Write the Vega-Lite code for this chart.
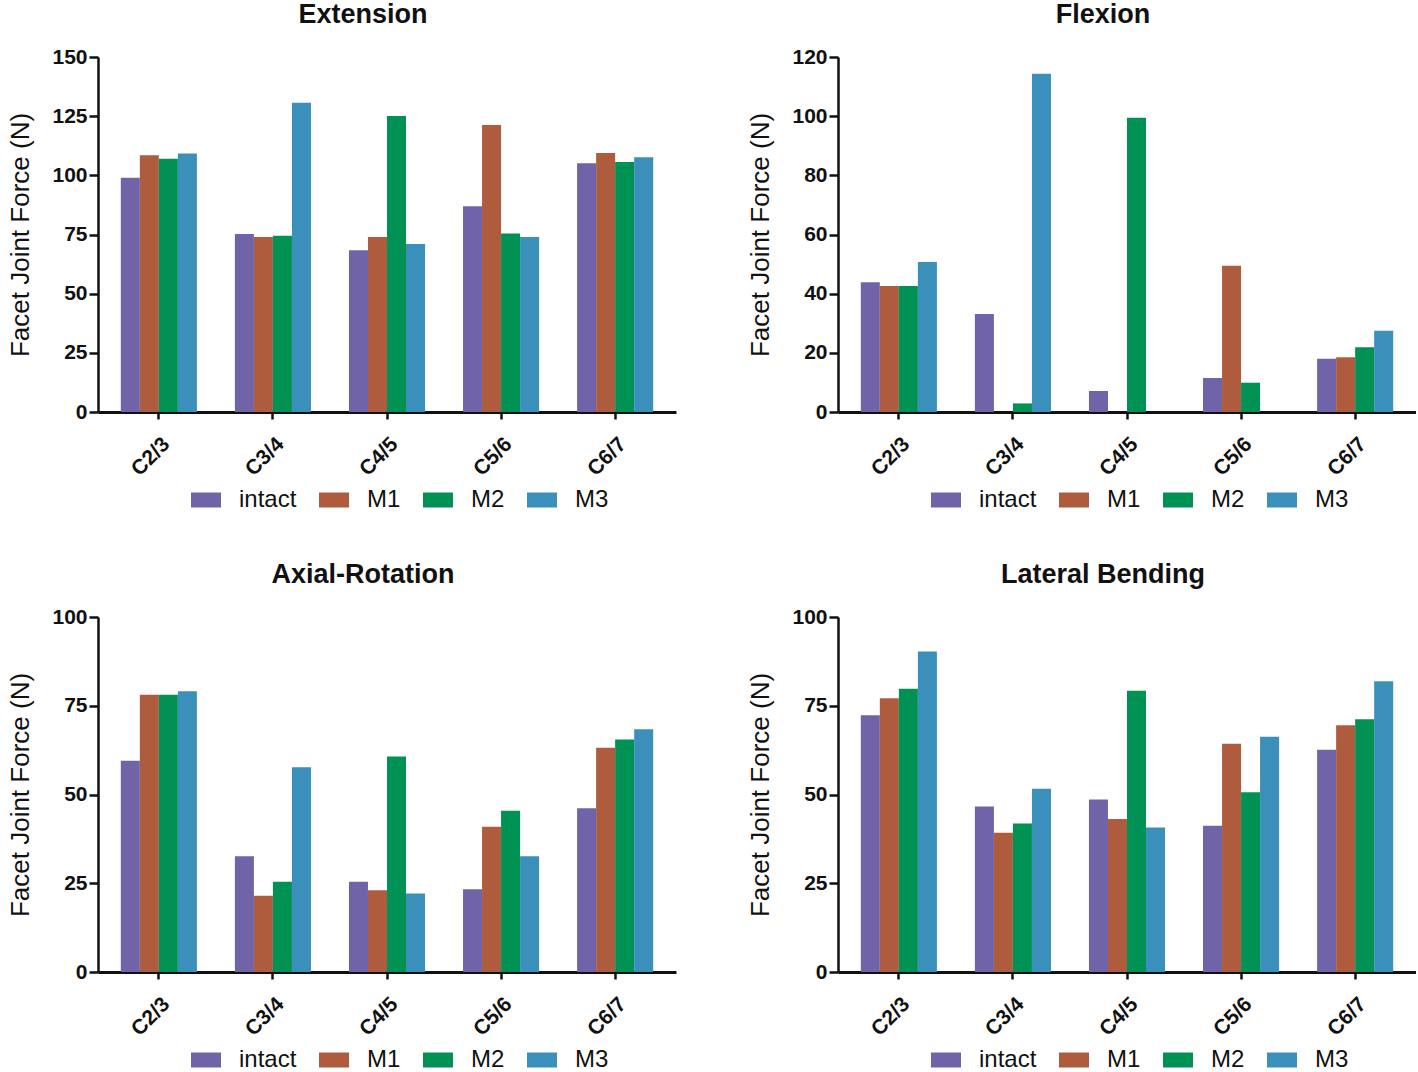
{
  "$schema": "https://vega.github.io/schema/vega-lite/v6.json",
  "padding": {"left": 7, "top": 1, "right": 0, "bottom": 0},
  "background": "white",
  "datasets": {
    "forces": [
      {"panel": "Extension", "level": "C2/3", "cond": "intact", "value": 99.0},
      {"panel": "Extension", "level": "C2/3", "cond": "M1", "value": 108.5},
      {"panel": "Extension", "level": "C2/3", "cond": "M2", "value": 107.0},
      {"panel": "Extension", "level": "C2/3", "cond": "M3", "value": 109.2},
      {"panel": "Extension", "level": "C3/4", "cond": "intact", "value": 75.2},
      {"panel": "Extension", "level": "C3/4", "cond": "M1", "value": 73.9},
      {"panel": "Extension", "level": "C3/4", "cond": "M2", "value": 74.5},
      {"panel": "Extension", "level": "C3/4", "cond": "M3", "value": 130.7},
      {"panel": "Extension", "level": "C4/5", "cond": "intact", "value": 68.3},
      {"panel": "Extension", "level": "C4/5", "cond": "M1", "value": 73.9},
      {"panel": "Extension", "level": "C4/5", "cond": "M2", "value": 125.1},
      {"panel": "Extension", "level": "C4/5", "cond": "M3", "value": 71.0},
      {"panel": "Extension", "level": "C5/6", "cond": "intact", "value": 86.9},
      {"panel": "Extension", "level": "C5/6", "cond": "M1", "value": 121.3},
      {"panel": "Extension", "level": "C5/6", "cond": "M2", "value": 75.4},
      {"panel": "Extension", "level": "C5/6", "cond": "M3", "value": 73.9},
      {"panel": "Extension", "level": "C6/7", "cond": "intact", "value": 105.1},
      {"panel": "Extension", "level": "C6/7", "cond": "M1", "value": 109.4},
      {"panel": "Extension", "level": "C6/7", "cond": "M2", "value": 105.6},
      {"panel": "Extension", "level": "C6/7", "cond": "M3", "value": 107.6},

      {"panel": "Flexion", "level": "C2/3", "cond": "intact", "value": 43.9},
      {"panel": "Flexion", "level": "C2/3", "cond": "M1", "value": 42.6},
      {"panel": "Flexion", "level": "C2/3", "cond": "M2", "value": 42.6},
      {"panel": "Flexion", "level": "C2/3", "cond": "M3", "value": 50.7},
      {"panel": "Flexion", "level": "C3/4", "cond": "intact", "value": 33.1},
      {"panel": "Flexion", "level": "C3/4", "cond": "M1", "value": 0},
      {"panel": "Flexion", "level": "C3/4", "cond": "M2", "value": 2.9},
      {"panel": "Flexion", "level": "C3/4", "cond": "M3", "value": 114.3},
      {"panel": "Flexion", "level": "C4/5", "cond": "intact", "value": 7.1},
      {"panel": "Flexion", "level": "C4/5", "cond": "M1", "value": 0},
      {"panel": "Flexion", "level": "C4/5", "cond": "M2", "value": 99.5},
      {"panel": "Flexion", "level": "C4/5", "cond": "M3", "value": 0},
      {"panel": "Flexion", "level": "C5/6", "cond": "intact", "value": 11.5},
      {"panel": "Flexion", "level": "C5/6", "cond": "M1", "value": 49.4},
      {"panel": "Flexion", "level": "C5/6", "cond": "M2", "value": 9.9},
      {"panel": "Flexion", "level": "C5/6", "cond": "M3", "value": 0},
      {"panel": "Flexion", "level": "C6/7", "cond": "intact", "value": 18.0},
      {"panel": "Flexion", "level": "C6/7", "cond": "M1", "value": 18.5},
      {"panel": "Flexion", "level": "C6/7", "cond": "M2", "value": 21.9},
      {"panel": "Flexion", "level": "C6/7", "cond": "M3", "value": 27.5},

      {"panel": "Axial-Rotation", "level": "C2/3", "cond": "intact", "value": 59.5},
      {"panel": "Axial-Rotation", "level": "C2/3", "cond": "M1", "value": 78.1},
      {"panel": "Axial-Rotation", "level": "C2/3", "cond": "M2", "value": 78.1},
      {"panel": "Axial-Rotation", "level": "C2/3", "cond": "M3", "value": 79.1},
      {"panel": "Axial-Rotation", "level": "C3/4", "cond": "intact", "value": 32.6},
      {"panel": "Axial-Rotation", "level": "C3/4", "cond": "M1", "value": 21.5},
      {"panel": "Axial-Rotation", "level": "C3/4", "cond": "M2", "value": 25.4},
      {"panel": "Axial-Rotation", "level": "C3/4", "cond": "M3", "value": 57.7},
      {"panel": "Axial-Rotation", "level": "C4/5", "cond": "intact", "value": 25.4},
      {"panel": "Axial-Rotation", "level": "C4/5", "cond": "M1", "value": 23.0},
      {"panel": "Axial-Rotation", "level": "C4/5", "cond": "M2", "value": 60.7},
      {"panel": "Axial-Rotation", "level": "C4/5", "cond": "M3", "value": 22.1},
      {"panel": "Axial-Rotation", "level": "C5/6", "cond": "intact", "value": 23.3},
      {"panel": "Axial-Rotation", "level": "C5/6", "cond": "M1", "value": 40.9},
      {"panel": "Axial-Rotation", "level": "C5/6", "cond": "M2", "value": 45.4},
      {"panel": "Axial-Rotation", "level": "C5/6", "cond": "M3", "value": 32.6},
      {"panel": "Axial-Rotation", "level": "C6/7", "cond": "intact", "value": 46.1},
      {"panel": "Axial-Rotation", "level": "C6/7", "cond": "M1", "value": 63.2},
      {"panel": "Axial-Rotation", "level": "C6/7", "cond": "M2", "value": 65.5},
      {"panel": "Axial-Rotation", "level": "C6/7", "cond": "M3", "value": 68.4},

      {"panel": "Lateral Bending", "level": "C2/3", "cond": "intact", "value": 72.3},
      {"panel": "Lateral Bending", "level": "C2/3", "cond": "M1", "value": 77.1},
      {"panel": "Lateral Bending", "level": "C2/3", "cond": "M2", "value": 79.8},
      {"panel": "Lateral Bending", "level": "C2/3", "cond": "M3", "value": 90.3},
      {"panel": "Lateral Bending", "level": "C3/4", "cond": "intact", "value": 46.6},
      {"panel": "Lateral Bending", "level": "C3/4", "cond": "M1", "value": 39.2},
      {"panel": "Lateral Bending", "level": "C3/4", "cond": "M2", "value": 41.8},
      {"panel": "Lateral Bending", "level": "C3/4", "cond": "M3", "value": 51.6},
      {"panel": "Lateral Bending", "level": "C4/5", "cond": "intact", "value": 48.6},
      {"panel": "Lateral Bending", "level": "C4/5", "cond": "M1", "value": 43.1},
      {"panel": "Lateral Bending", "level": "C4/5", "cond": "M2", "value": 79.2},
      {"panel": "Lateral Bending", "level": "C4/5", "cond": "M3", "value": 40.7},
      {"panel": "Lateral Bending", "level": "C5/6", "cond": "intact", "value": 41.2},
      {"panel": "Lateral Bending", "level": "C5/6", "cond": "M1", "value": 64.3},
      {"panel": "Lateral Bending", "level": "C5/6", "cond": "M2", "value": 50.6},
      {"panel": "Lateral Bending", "level": "C5/6", "cond": "M3", "value": 66.3},
      {"panel": "Lateral Bending", "level": "C6/7", "cond": "intact", "value": 62.6},
      {"panel": "Lateral Bending", "level": "C6/7", "cond": "M1", "value": 69.5},
      {"panel": "Lateral Bending", "level": "C6/7", "cond": "M2", "value": 71.2},
      {"panel": "Lateral Bending", "level": "C6/7", "cond": "M3", "value": 81.9}
    ]
  },
  "data": {"name": "forces"},
  "columns": 2,
  "spacing": {"column": 71, "row": 49},
  "resolve": {
    "scale": {"x": "independent", "y": "independent", "color": "independent", "xOffset": "independent"},
    "axis": {"x": "independent", "y": "independent"},
    "legend": {"color": "independent"}
  },
  "concat": [
    {
      "title": "Extension",
      "width": 578, "height": 355,
      "transform": [{"filter": "datum.panel === 'Extension'"}],
      "mark": {"type": "bar"},
      "encoding": {
        "x": {"field": "level", "type": "nominal", "sort": ["C2/3", "C3/4", "C4/5", "C5/6", "C6/7"], "scale": {"paddingInner": 0.333, "paddingOuter": 0.2}, "axis": {"title": null, "labelAngle": -45}},
        "xOffset": {"field": "cond", "type": "nominal", "sort": ["intact", "M1", "M2", "M3"], "scale": {"paddingInner": 0, "paddingOuter": 0}},
        "y": {"field": "value", "type": "quantitative", "scale": {"domain": [0, 150], "nice": false}, "axis": {"values": [0, 25, 50, 75, 100, 125, 150], "title": "Facet Joint Force (N)"}},
        "color": {"field": "cond", "type": "nominal", "sort": ["intact", "M1", "M2", "M3"], "scale": {"domain": ["intact", "M1", "M2", "M3"], "range": ["#7063A8", "#AF5C3E", "#009254", "#3A8FBB"]}, "legend": {"orient": "none", "legendX": 93, "legendY": 428, "direction": "horizontal", "title": null}}
      }
    },
    {
      "title": "Flexion",
      "width": 578, "height": 355,
      "transform": [{"filter": "datum.panel === 'Flexion'"}],
      "mark": {"type": "bar"},
      "encoding": {
        "x": {"field": "level", "type": "nominal", "sort": ["C2/3", "C3/4", "C4/5", "C5/6", "C6/7"], "scale": {"paddingInner": 0.333, "paddingOuter": 0.2}, "axis": {"title": null, "labelAngle": -45}},
        "xOffset": {"field": "cond", "type": "nominal", "sort": ["intact", "M1", "M2", "M3"], "scale": {"paddingInner": 0, "paddingOuter": 0}},
        "y": {"field": "value", "type": "quantitative", "scale": {"domain": [0, 120], "nice": false}, "axis": {"values": [0, 20, 40, 60, 80, 100, 120], "title": "Facet Joint Force (N)"}},
        "color": {"field": "cond", "type": "nominal", "sort": ["intact", "M1", "M2", "M3"], "scale": {"domain": ["intact", "M1", "M2", "M3"], "range": ["#7063A8", "#AF5C3E", "#009254", "#3A8FBB"]}, "legend": {"orient": "none", "legendX": 93, "legendY": 428, "direction": "horizontal", "title": null}}
      }
    },
    {
      "title": "Axial-Rotation",
      "width": 578, "height": 355,
      "transform": [{"filter": "datum.panel === 'Axial-Rotation'"}],
      "mark": {"type": "bar"},
      "encoding": {
        "x": {"field": "level", "type": "nominal", "sort": ["C2/3", "C3/4", "C4/5", "C5/6", "C6/7"], "scale": {"paddingInner": 0.333, "paddingOuter": 0.2}, "axis": {"title": null, "labelAngle": -45}},
        "xOffset": {"field": "cond", "type": "nominal", "sort": ["intact", "M1", "M2", "M3"], "scale": {"paddingInner": 0, "paddingOuter": 0}},
        "y": {"field": "value", "type": "quantitative", "scale": {"domain": [0, 100], "nice": false}, "axis": {"values": [0, 25, 50, 75, 100], "title": "Facet Joint Force (N)"}},
        "color": {"field": "cond", "type": "nominal", "sort": ["intact", "M1", "M2", "M3"], "scale": {"domain": ["intact", "M1", "M2", "M3"], "range": ["#7063A8", "#AF5C3E", "#009254", "#3A8FBB"]}, "legend": {"orient": "none", "legendX": 93, "legendY": 428, "direction": "horizontal", "title": null}}
      }
    },
    {
      "title": "Lateral Bending",
      "width": 578, "height": 355,
      "transform": [{"filter": "datum.panel === 'Lateral Bending'"}],
      "mark": {"type": "bar"},
      "encoding": {
        "x": {"field": "level", "type": "nominal", "sort": ["C2/3", "C3/4", "C4/5", "C5/6", "C6/7"], "scale": {"paddingInner": 0.333, "paddingOuter": 0.2}, "axis": {"title": null, "labelAngle": -45}},
        "xOffset": {"field": "cond", "type": "nominal", "sort": ["intact", "M1", "M2", "M3"], "scale": {"paddingInner": 0, "paddingOuter": 0}},
        "y": {"field": "value", "type": "quantitative", "scale": {"domain": [0, 100], "nice": false}, "axis": {"values": [0, 25, 50, 75, 100], "title": "Facet Joint Force (N)"}},
        "color": {"field": "cond", "type": "nominal", "sort": ["intact", "M1", "M2", "M3"], "scale": {"domain": ["intact", "M1", "M2", "M3"], "range": ["#7063A8", "#AF5C3E", "#009254", "#3A8FBB"]}, "legend": {"orient": "none", "legendX": 93, "legendY": 428, "direction": "horizontal", "title": null}}
      }
    }
  ],
  "config": {
    "view": {"stroke": null},
    "title": {"font": "Liberation Sans", "fontSize": 27, "fontWeight": "bold", "color": "#111111", "anchor": "middle", "frame": "group", "dx": -24, "offset": 17},
    "axis": {
      "grid": false,
      "labelFont": "Liberation Sans", "labelFontWeight": "bold", "labelFontSize": 21, "labelColor": "#111111",
      "domainColor": "#111111", "domainWidth": 2.5, "tickColor": "#111111", "tickWidth": 2.5,
      "titleFont": "Liberation Sans", "titleFontWeight": "normal", "titleFontSize": 26, "titleColor": "#111111"
    },
    "axisX": {"tickSize": 7, "labelPadding": 14, "domainWidth": 3},
    "axisY": {"tickSize": 9, "labelPadding": 2, "titlePadding": 18},
    "legend": {
      "labelFont": "Liberation Sans", "labelFontSize": 24, "labelColor": "#111111",
      "symbolType": "M-1,-0.5H1V0.5H-1Z", "symbolSize": 900, "symbolStrokeWidth": 0, "symbolOpacity": 1,
      "labelOffset": 18, "columnPadding": 22
    }
  }
}
